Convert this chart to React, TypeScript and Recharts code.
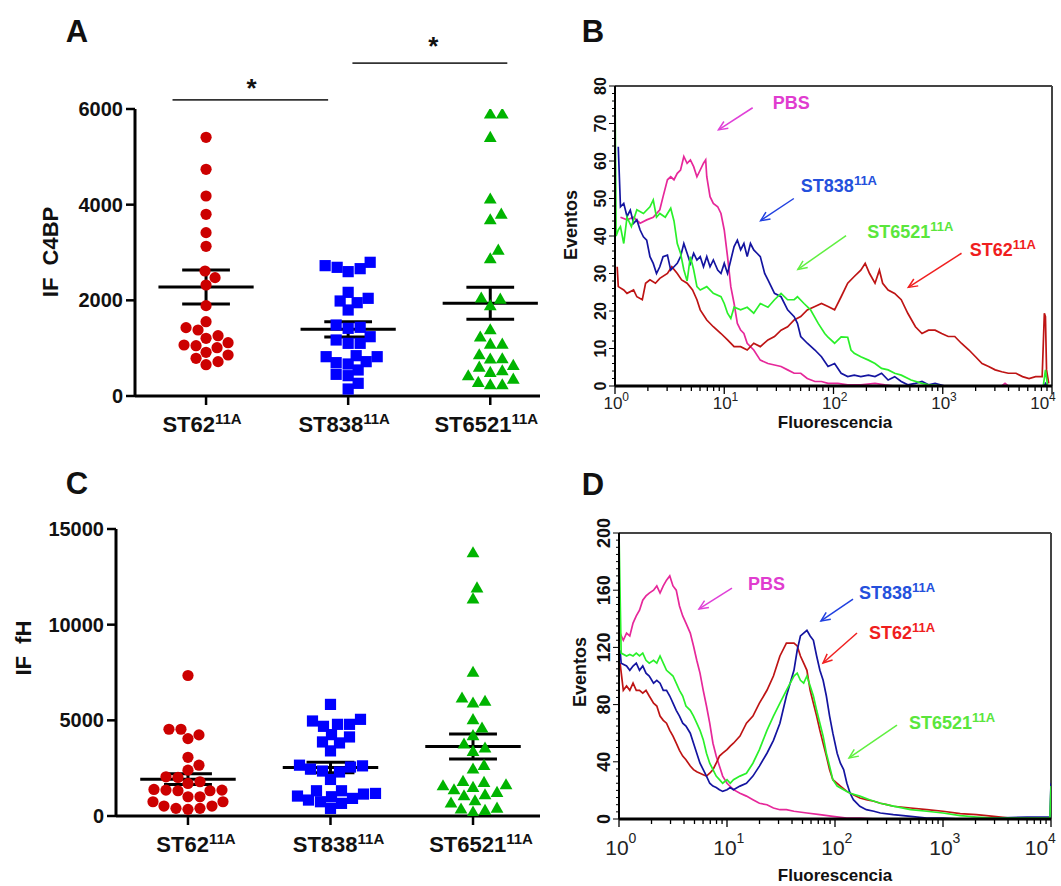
import React from 'react';
import { ScatterChart, Scatter, LineChart, Line, XAxis, YAxis, ReferenceLine, ReferenceDot } from 'recharts';

const FONT = '"Liberation Sans", Arial, Helvetica, sans-serif';

// ---------- Panels A and C : dot plots ----------
const groupNames = ['ST62', 'ST838', 'ST6521'];
const groupSup = '11A';
const groupColors = ['#cc0000', '#0000ff', '#00b400'];

// IF C4BP (panel A)
const c4bpST62 = [5408, 4739, 4181, 3798, 3415, 3129, 2613, 2474, 2321, 1889, 1554, 1429, 1380, 1261, 1206, 1115, 1066, 1052, 1010, 913, 857, 788, 718, 655];
const c4bpST838 = [2725, 2662, 2600, 2690, 2795, 2042, 1951, 1798, 1986, 2167, 1484, 1415, 1436, 1171, 1101, 1101, 1240, 822, 718, 669, 697, 822, 843, 544, 425, 265, 453, 146];
const c4bpST6521 = [5889, 5889, 5401, 4112, 3798, 3680, 3045, 2864, 2021, 2042, 1882, 1380, 1227, 1080, 1080, 774, 634, 599, 767, 857, 523, 418, 279, 230, 230, 348, 488];
const c4bpMean = [2279, 1394, 1937];
const c4bpSem = [355, 160, 335];
const c4bpTicks = [0, 2000, 4000, 6000];

// IF fH (panel C)
const fhST62 = [7342, 4534, 4238, 4046, 4534, 3069, 2656, 2396, 2014, 2048, 1790, 1700, 1389, 1319, 1319, 1354, 1007, 746, 521, 399, 347, 399, 521, 746, 1007, 1354];
const fhST838 = [5833, 4965, 4791, 4687, 4791, 5052, 4253, 3871, 3819, 4132, 3403, 2656, 2560, 2300, 1910, 2450, 2620, 2350, 1319, 1146, 1007, 833, 660, 399, 746, 920, 1042, 1180, 1319];
const fhST6521 = [13743, 11912, 11336, 7499, 5982, 5895, 6156, 5023, 4587, 4186, 3540, 3366, 3750, 2633, 2442, 1744, 1570, 1360, 1221, 1482, 1622, 1796, 1046, 1099, 663, 785, 349, 192, 279, 401];
const fhMean = [1927, 2535, 3628];
const fhSem = [287, 278, 654];
const fhTicks = [0, 5000, 10000, 15000];

// significance annotations for panel A: [x1, x2, yLine, xStar, yStar]
const sigBars = [
  [-0.236, 0.859, 6190, 0.32, 6560],
  [1.03, 2.12, 6960, 1.6, 7440],
];

// ---------- Panels B and D : histograms (log10 fluorescence, events) ----------
const histB_PBS: [number, number][] = [[0.05,45],[0.11,44.3],[0.17,45],[0.23,43.4],[0.29,44.3],[0.35,45],[0.41,47],[0.44,50.5],[0.48,55],[0.51,55.8],[0.54,55],[0.57,56.7],[0.60,57.6],[0.63,61.2],[0.66,59.4],[0.69,60.3],[0.72,58.5],[0.75,55.8],[0.78,57.6],[0.81,59.4],[0.83,60.3],[0.84,55.8],[0.87,50.5],[0.90,48.7],[0.94,47.8],[0.97,46],[1.00,41.6],[1.03,34.5],[1.06,26.5],[1.09,22],[1.12,16.7],[1.15,14.9],[1.18,14],[1.21,11.4],[1.27,9.6],[1.33,6.9],[1.40,6],[1.46,5.6],[1.52,5.2],[1.58,4.3],[1.64,3.4],[1.70,3.4],[1.76,2],[1.83,1.2],[1.89,1.2],[1.95,0.7],[2.04,0.7],[2.13,0.3],[2.25,0.3],[2.38,0.7],[2.47,0.3],[2.56,0],[3.54,0],[3.57,0.7],[3.60,0],[3.97,0]];
const histB_ST838: [number, number][] = [[0.03,63.8],[0.05,47.8],[0.08,48.7],[0.11,45.2],[0.14,46.9],[0.17,43.4],[0.20,44.3],[0.23,41.6],[0.26,39.8],[0.29,38.9],[0.32,34.5],[0.35,32.7],[0.38,30],[0.41,31.8],[0.44,34.5],[0.48,34.9],[0.51,30.9],[0.54,31.8],[0.57,32.7],[0.60,34.5],[0.63,38],[0.66,35.4],[0.69,32.7],[0.72,35.4],[0.75,33.6],[0.78,34.5],[0.81,31.8],[0.84,34.5],[0.87,31.8],[0.90,33.6],[0.94,30.9],[0.97,30],[1.00,32.7],[1.03,30],[1.06,33.6],[1.09,37.2],[1.12,38.9],[1.15,36.3],[1.18,38],[1.21,34.5],[1.24,38],[1.27,36.3],[1.30,35.4],[1.33,34.5],[1.37,30],[1.40,28.3],[1.43,26.5],[1.46,24.7],[1.52,23.8],[1.58,20.3],[1.64,18.5],[1.67,16.7],[1.70,13.2],[1.76,11.4],[1.83,9.6],[1.89,7.8],[1.95,5.2],[2.01,6],[2.07,3.4],[2.13,2.5],[2.19,2.9],[2.25,2.5],[2.32,2.9],[2.38,2.5],[2.44,3.4],[2.50,1.6],[2.56,2.5],[2.62,1.2],[2.68,0.3],[2.75,0.7],[2.81,1.2],[2.87,0.3],[2.93,0.7],[3.02,0],[3.93,0],[3.94,0.7],[3.96,0]];
const histB_ST6521: [number, number][] = [[0,0],[0,80],[0.01,40],[0.03,41.6],[0.05,42.5],[0.08,38],[0.11,45],[0.15,42.5],[0.20,47],[0.26,46],[0.32,47.8],[0.35,49.6],[0.38,45],[0.41,46],[0.46,45],[0.51,47.4],[0.54,44],[0.57,38],[0.60,35.4],[0.63,31],[0.66,28],[0.69,34.5],[0.72,31],[0.75,26.5],[0.78,25.6],[0.84,26.5],[0.90,24.7],[0.97,23.8],[1.00,22],[1.03,19.4],[1.06,18],[1.09,21],[1.15,20.3],[1.21,21],[1.27,19.4],[1.33,22],[1.40,21],[1.46,23],[1.52,24.7],[1.58,23],[1.64,23],[1.67,23.8],[1.73,22],[1.79,20.3],[1.86,16.7],[1.92,14],[1.95,13],[2.01,11.4],[2.07,13.1],[2.13,13],[2.16,9.6],[2.19,8.7],[2.25,7.8],[2.32,6.9],[2.38,6],[2.44,4.7],[2.50,4.3],[2.56,3.4],[2.62,2.9],[2.71,1.6],[2.81,0.7],[2.87,0.3],[3.02,0],[3.92,0],[3.94,4.3],[3.96,0]];
const histB_ST62: [number, number][] = [[0.02,31.8],[0.03,26.5],[0.08,25.6],[0.11,24.7],[0.17,25.6],[0.20,23.8],[0.25,23],[0.28,27.4],[0.32,28.3],[0.37,27.4],[0.41,28.7],[0.48,30],[0.52,31.8],[0.57,30],[0.61,28.3],[0.66,27.4],[0.71,25.6],[0.75,23],[0.78,20.3],[0.84,17.6],[0.90,15.8],[0.97,14],[1.03,12.3],[1.09,10.5],[1.15,10.5],[1.21,9.6],[1.27,11.4],[1.33,10.5],[1.40,12.3],[1.46,13.2],[1.52,14.9],[1.58,15.8],[1.64,17.6],[1.70,18.5],[1.76,20.3],[1.83,21.2],[1.89,22],[1.95,21.2],[2.01,20.3],[2.07,23.8],[2.13,27.4],[2.19,29.2],[2.25,30.9],[2.29,32.7],[2.33,30],[2.38,27.4],[2.42,30.9],[2.45,27.4],[2.50,25.6],[2.56,24.7],[2.62,23],[2.68,19.4],[2.75,15.8],[2.81,14],[2.87,14.9],[2.93,14.9],[2.99,14],[3.05,13.2],[3.11,13.2],[3.17,11.4],[3.24,9.6],[3.30,7.8],[3.36,6],[3.42,5.2],[3.48,4.3],[3.54,3.8],[3.60,3.4],[3.67,3.4],[3.73,2.5],[3.79,2],[3.85,2.5],[3.91,2.5],[3.93,19.4],[3.94,18.5],[3.95,4.3],[3.97,0.7]];

const histD_PBS: [number, number][] = [[0.01,130],[0.04,125],[0.07,130],[0.10,128],[0.13,137],[0.16,142],[0.19,146],[0.22,153],[0.25,156],[0.28,158],[0.32,160],[0.35,163],[0.38,158],[0.41,163],[0.44,167],[0.47,170],[0.50,163],[0.53,160],[0.56,149],[0.59,142],[0.62,137],[0.66,130],[0.69,121],[0.72,111],[0.75,102],[0.78,90],[0.81,79],[0.84,67],[0.87,53],[0.90,44],[0.93,37],[0.96,30],[1.00,25],[1.06,20.5],[1.12,18],[1.18,16],[1.24,13.5],[1.30,11],[1.37,10],[1.43,7.7],[1.49,6.5],[1.55,6.5],[1.62,5.4],[1.74,4.2],[1.86,3],[1.98,1.9],[2.11,0.7],[2.23,0.7],[2.39,0],[3.99,0]];
const histD_ST838: [number, number][] = [[0.01,118],[0.02,109],[0.07,107],[0.10,104],[0.13,107],[0.16,109],[0.19,104],[0.22,107],[0.25,102],[0.28,100],[0.32,95],[0.35,97],[0.38,95],[0.41,90],[0.44,90],[0.47,86],[0.50,81],[0.53,76],[0.56,72],[0.59,67],[0.62,65],[0.66,60],[0.69,53],[0.72,46],[0.75,39],[0.78,34.5],[0.81,30],[0.84,25],[0.87,23],[0.90,22],[0.93,20.5],[0.96,19.3],[1.00,20.5],[1.03,22],[1.06,20.5],[1.12,23],[1.18,25],[1.24,30],[1.30,37],[1.37,46],[1.43,55],[1.49,67],[1.55,86],[1.62,104],[1.65,118],[1.68,128],[1.71,130],[1.74,132],[1.77,128],[1.80,125],[1.83,114],[1.86,104],[1.89,97],[1.92,86],[1.95,72],[1.98,60],[2.02,46],[2.05,39],[2.08,34.5],[2.11,25],[2.14,18],[2.17,13.5],[2.23,8.9],[2.29,6.5],[2.36,5.4],[2.42,4.2],[2.54,3],[2.70,1.9],[2.85,0.7],[3.00,0.7],[3.16,0],[3.47,0.7],[3.78,1.4],[3.99,1.4],[4.0,25]];
const histD_ST62: [number, number][] = [[0.01,109],[0.04,90],[0.07,93],[0.10,90],[0.13,95],[0.16,90],[0.19,90],[0.22,88],[0.25,90],[0.28,86],[0.32,81],[0.35,79],[0.38,72],[0.41,69],[0.44,67],[0.47,62],[0.50,58],[0.53,53],[0.56,48],[0.59,44],[0.62,41.5],[0.66,37],[0.69,34.5],[0.72,33],[0.75,32],[0.78,31],[0.81,30],[0.84,32],[0.87,34.5],[0.90,39],[0.93,44],[0.96,46],[1.00,48.5],[1.03,51],[1.06,53],[1.12,58],[1.18,67],[1.24,72],[1.30,81],[1.37,90],[1.43,100],[1.49,114],[1.55,123],[1.62,123],[1.65,121],[1.68,114],[1.71,109],[1.74,104],[1.77,90],[1.80,81],[1.83,72],[1.86,62],[1.89,53],[1.92,44],[1.95,34.5],[1.98,27.5],[2.05,23],[2.11,19.3],[2.17,17],[2.23,14.7],[2.29,13.5],[2.36,12.4],[2.42,11],[2.48,10],[2.54,8.9],[2.70,7.7],[2.85,6.5],[3.00,5.4],[3.16,3.7],[3.31,3],[3.47,1.9],[3.62,0.7],[3.78,0.7],[3.96,0.2]];
const histD_ST6521: [number, number][] = [[0,0],[0,200],[0.02,116],[0.07,114],[0.10,115],[0.13,114],[0.16,116],[0.19,114],[0.22,116],[0.25,111],[0.28,109],[0.32,111],[0.35,109],[0.38,114],[0.41,109],[0.44,104],[0.47,102],[0.50,100],[0.53,95],[0.56,90],[0.59,86],[0.62,79],[0.66,76],[0.69,72],[0.72,67],[0.75,62],[0.78,55.5],[0.81,46],[0.84,39],[0.87,34.5],[0.90,30],[0.93,27.5],[0.96,25],[1.00,27.5],[1.03,25],[1.06,27.5],[1.12,30],[1.18,32],[1.24,39],[1.30,48.5],[1.37,62],[1.43,72],[1.49,81],[1.55,90],[1.62,100],[1.65,102],[1.68,97],[1.71,95],[1.74,100],[1.77,93],[1.80,86],[1.83,76],[1.86,67],[1.89,58],[1.92,46],[1.95,37],[1.98,27.5],[2.02,23],[2.08,20.5],[2.14,18],[2.23,16],[2.32,13.5],[2.42,11],[2.54,9],[2.70,6.5],[2.85,5.4],[3.00,4.2],[3.16,2.3],[3.31,1.4],[3.47,0.7],[3.78,0.7],[3.99,0.7],[4.0,23]];

const logTicksMajor = [1, 10, 100, 1000, 10000];
const logTicksMinorMult = [2, 3, 4, 5, 6, 7, 8, 9];

// annotation labels: [name, sup, log10 x, events, textColor, arrowTailLx, arrowTailY, arrowHeadLx, arrowHeadY, arrowColor]
type Ann = [string, string, number, number, string, number, number, number, number, string];
const annB: Ann[] = [
  ['PBS', '', 1.444, 75.5, '#e03ccf', 1.26, 74.2, 0.947, 68.3, '#e040d8'],
  ['ST838', '11A', 1.701, 53.4, '#2450dc', 1.637, 50.0, 1.333, 44.1, '#2040e0'],
  ['ST6521', '11A', 2.308, 40.9, '#5ae63c', 2.115, 40.1, 1.674, 31.1, '#60f040'],
  ['ST62', '11A', 3.246, 36.1, '#f01e1e', 3.172, 35.4, 2.685, 26.3, '#f02020'],
];
const annD: Ann[] = [
  ['PBS', '', 1.194, 164.3, '#e03ccf', 1.046, 161.5, 0.741, 146.9, '#e040d8'],
  ['ST838', '11A', 2.222, 158, '#2450dc', 2.167, 153.8, 1.87, 138.5, '#2040e0'],
  ['ST62', '11A', 2.315, 130.1, '#f01e1e', 2.204, 130.1, 1.889, 109.1, '#f02020'],
  ['ST6521', '11A', 2.685, 67.1, '#5ae63c', 2.574, 65.7, 2.13, 42.7, '#60f040'],
];

const curveColors = { pbs: '#e6289a', st838: '#1414a0', st6521: '#2af02a', st62: '#be1414' };

// ---------- helpers ----------
function swarmOffsets(values: number[], pxPerUnitY: number, pxPerCat: number, diam: number): number[] {
  const order = values.map((_, i) => i).sort((a, b) => values[a] - values[b]);
  const placed: { x: number; y: number }[] = [];
  const out: number[] = new Array(values.length).fill(0);
  for (const i of order) {
    const y = values[i] * pxPerUnitY;
    let best = 0;
    for (let k = 0; k < 400; k++) {
      const off = k === 0 ? 0 : (k % 2 === 1 ? Math.ceil(k / 2) : -Math.ceil(k / 2));
      const ok = placed.every((p) => (p.x - off) * (p.x - off) + (p.y - y) * (p.y - y) >= diam * diam);
      if (ok) { best = off; break; }
    }
    placed.push({ x: best, y });
    out[i] = best / pxPerCat;
  }
  return out;
}

const shapes = [
  (p: any) => <circle cx={p.cx} cy={p.cy} r={5.6} fill={groupColors[0]} />,
  (p: any) => <rect x={p.cx - 5.6} y={p.cy - 5.6} width={11.2} height={11.2} fill={groupColors[1]} />,
  (p: any) => <polygon points={`${p.cx},${p.cy - 6.8} ${p.cx - 6.4},${p.cy + 4.3} ${p.cx + 6.4},${p.cy + 4.3}`} fill={groupColors[2]} />,
];

const makeGroupTick = (shift: number) => (props: any) => {
  const { x, y, payload } = props;
  const i = Math.round(payload.value);
  return (
    <text x={x + shift} y={y + 27} textAnchor="middle" fontFamily={FONT} fontWeight="bold" fill="#111">
      <tspan fontSize={22}>{groupNames[i]}</tspan>
      <tspan fontSize={15} dy={-8}>{groupSup}</tspan>
    </text>
  );
};

const StarLabel = (props: any) => {
  const vb = props.viewBox || {};
  const cx = (vb.x || 0) + (vb.width || 0) / 2;
  const cy = (vb.y || 0) + (vb.height || 0) / 2;
  return (
    <text x={cx} y={cy + 15} textAnchor="middle" fontFamily={FONT} fontWeight="bold" fontSize={26} fill="#111">*</text>
  );
};

interface DotPanelProps {
  groups: number[][];
  means: number[];
  sems: number[];
  yMax: number;
  yTicks: number[];
  xDomain: [number, number];
  width: number;
  height: number;
  margin: { top: number; right: number; bottom: number; left: number };
  pxPerY: number;
  pxPerCat: number;
  tickShift: number;
  sig?: number[][];
}

function DotPanel(p: DotPanelProps) {
  const MEAN_HALF = 0.335;
  const CAP_HALF = 0.168;
  const lineStyle = { stroke: '#000', strokeWidth: 3 };
  const refs: React.ReactNode[] = [];
  p.means.forEach((m, g) => {
    const s = p.sems[g];
    refs.push(<ReferenceLine key={`m${g}`} segment={[{ x: g - MEAN_HALF, y: m }, { x: g + MEAN_HALF, y: m }]} {...lineStyle} ifOverflow="visible" />);
    refs.push(<ReferenceLine key={`u${g}`} segment={[{ x: g - CAP_HALF, y: m + s }, { x: g + CAP_HALF, y: m + s }]} {...lineStyle} ifOverflow="visible" />);
    refs.push(<ReferenceLine key={`l${g}`} segment={[{ x: g - CAP_HALF, y: m - s }, { x: g + CAP_HALF, y: m - s }]} {...lineStyle} ifOverflow="visible" />);
    refs.push(<ReferenceLine key={`v${g}`} segment={[{ x: g, y: m - s }, { x: g, y: m + s }]} {...lineStyle} ifOverflow="visible" />);
  });
  (p.sig || []).forEach((b, i) => {
    refs.push(<ReferenceLine key={`s${i}`} segment={[{ x: b[0], y: b[2] }, { x: b[1], y: b[2] }]} stroke="#333" strokeWidth={1.6} ifOverflow="visible" />);
    refs.push(<ReferenceDot key={`st${i}`} x={b[3]} y={b[4]} r={0} fill="none" stroke="none" ifOverflow="visible" label={StarLabel} />);
  });
  return (
    <ScatterChart width={p.width} height={p.height} margin={p.margin}>
      <XAxis type="number" dataKey="x" domain={p.xDomain} allowDataOverflow ticks={[0, 1, 2]} interval={0} height={40}
        axisLine={{ stroke: '#000', strokeWidth: 3 }} tickLine={{ stroke: '#000', strokeWidth: 2.5 }} tickSize={9} tickMargin={0}
        tick={makeGroupTick(p.tickShift)} />
      <YAxis type="number" dataKey="y" domain={[0, p.yMax]} allowDataOverflow ticks={p.yTicks} interval={0} width={70}
        axisLine={{ stroke: '#000', strokeWidth: 3 }} tickLine={{ stroke: '#000', strokeWidth: 2.5 }} tickSize={9} tickMargin={3}
        tick={{ fontSize: 20, fontWeight: 'bold', fill: '#111', fontFamily: FONT }} />
      {p.groups.map((vals, g) => {
        const offs = swarmOffsets(vals, p.pxPerY, p.pxPerCat, 11.5);
        const data = vals.map((v, i) => ({ x: g + offs[i], y: v }));
        return <Scatter key={g} data={data} shape={shapes[g]} isAnimationActive={false} />;
      })}
      {refs}
    </ScatterChart>
  );
}

// ---------- histogram panel ----------
const logTicks: number[] = (() => {
  const t: number[] = [];
  logTicksMajor.forEach((d, i) => {
    t.push(d);
    if (i < logTicksMajor.length - 1) logTicksMinorMult.forEach((m) => t.push(d * m));
  });
  return t;
})();

const makeLogTick = (fs: number, supFs: number, baseDy: number, supDy: number) => (props: any) => {
  const { x, y, payload } = props;
  const v = payload.value;
  const e = Math.round(Math.log10(v));
  const major = Math.abs(Math.pow(10, e) - v) < 1e-6 * v;
  const cx = e === 4 ? x - 0.55 * fs - 3 : x - 2;
  return (
    <g>
      <line x1={x} x2={x} y1={y} y2={y + (major ? 8 : 5)} stroke="#000" strokeWidth={1.3} />
      {major && (
        <g fontFamily={FONT} fill="#222">
          <text x={cx} y={y + baseDy} fontSize={fs} textAnchor="middle">10</text>
          <text x={cx + 0.55 * fs} y={y + supDy} fontSize={supFs} textAnchor="start">{e}</text>
        </g>
      )}
    </g>
  );
};

const makeCountTick = (major: number, fs: number, off: number) => (props: any) => {
  const { x, y, payload } = props;
  const v = payload.value;
  const isMajor = v % major === 0;
  const lx = x - off;
  return (
    <g>
      <line x1={x} x2={x - (isMajor ? 6 : 3)} y1={y} y2={y} stroke="#000" strokeWidth={1} />
      {isMajor && (
        <text x={lx} y={y} transform={`rotate(-90 ${lx} ${y})`} textAnchor="middle" dy="0.36em"
          fontFamily={FONT} fontWeight="bold" fontSize={fs} fill="#111">{v}</text>
      )}
    </g>
  );
};

const ArrowShape = (props: any) => {
  const { x1, y1, x2, y2, stroke } = props;
  if ([x1, y1, x2, y2].some((v) => typeof v !== 'number' || isNaN(v))) return null;
  const ang = Math.atan2(y2 - y1, x2 - x1);
  const L = 10;
  const a = 0.42;
  const p1 = `${x2 - L * Math.cos(ang - a)},${y2 - L * Math.sin(ang - a)}`;
  const p2 = `${x2 - L * Math.cos(ang + a)},${y2 - L * Math.sin(ang + a)}`;
  return (
    <g>
      <line x1={x1} y1={y1} x2={x2} y2={y2} stroke={stroke} strokeWidth={1.5} />
      <polyline points={`${p1} ${x2},${y2} ${p2}`} fill="none" stroke={stroke} strokeWidth={1.5} />
    </g>
  );
};

const makeAnnLabel = (name: string, sup: string, color: string) => (props: any) => {
  const vb = props.viewBox || {};
  const x = (vb.x || 0) + (vb.width || 0) / 2;
  const y = (vb.y || 0) + (vb.height || 0) / 2;
  return (
    <text x={x} y={y} dy="0.36em" fontFamily={FONT} fontWeight="bold" fill={color} textAnchor="start">
      <tspan fontSize={18}>{name}</tspan>
      {sup && <tspan fontSize={13} dy={-7}>{sup}</tspan>}
    </text>
  );
};

const toPts = (arr: [number, number][]) => arr.map(([lx, n]) => ({ f: Math.pow(10, lx), n }));

interface HistProps {
  width: number;
  height: number;
  margin: { top: number; right: number; bottom: number; left: number };
  yMax: number;
  countTicks: number[];
  countMajor: number;
  countFs: number;
  xAxisHeight: number;
  xFs: number;
  xSupFs: number;
  xBaseDy: number;
  xSupDy: number;
  curves: { data: [number, number][]; color: string }[];
  ann: Ann[];
}

function HistPanel(p: HistProps) {
  return (
    <LineChart width={p.width} height={p.height} margin={p.margin}>
      <XAxis type="number" dataKey="f" scale="log" domain={[1, 10000]} allowDataOverflow ticks={logTicks} interval={0}
        height={p.xAxisHeight} tickSize={0} tickMargin={0} tickLine={false}
        axisLine={{ stroke: '#000', strokeWidth: 3 }} tick={makeLogTick(p.xFs, p.xSupFs, p.xBaseDy, p.xSupDy)} />
      <YAxis type="number" dataKey="n" domain={[0, p.yMax]} allowDataOverflow ticks={p.countTicks} interval={0}
        width={50} tickSize={0} tickMargin={0} tickLine={false}
        axisLine={{ stroke: '#000', strokeWidth: 2 }} tick={makeCountTick(p.countMajor, p.countFs, 15)} />
      <ReferenceLine y={p.yMax} stroke="#444" strokeWidth={2} ifOverflow="visible" />
      <ReferenceLine x={10000} stroke="#444" strokeWidth={2} ifOverflow="visible" />
      {p.curves.map((c, i) => (
        <Line key={i} data={toPts(c.data)} dataKey="n" type="linear" stroke={c.color} strokeWidth={1.7}
          dot={false} activeDot={false} isAnimationActive={false} />
      ))}
      {p.ann.map((a, i) => (
        <ReferenceLine key={`a${i}`} segment={[{ x: Math.pow(10, a[5]), y: a[6] }, { x: Math.pow(10, a[7]), y: a[8] }]}
          stroke={a[9]} ifOverflow="visible" shape={ArrowShape} />
      ))}
      {p.ann.map((a, i) => (
        <ReferenceDot key={`t${i}`} x={Math.pow(10, a[2])} y={a[3]} r={0} fill="none" stroke="none" ifOverflow="visible"
          label={makeAnnLabel(a[0], a[1], a[4])} />
      ))}
    </LineChart>
  );
}

const countTicksB = Array.from({ length: 41 }, (_, i) => i * 2);
const countTicksD = Array.from({ length: 41 }, (_, i) => i * 5);

export default function App() {
  const abs = (left: number, top: number): React.CSSProperties => ({ position: 'absolute', left, top });
  return (
    <div style={{ position: 'absolute', left: 0, top: 0, width: 1061, height: 886, background: '#fff', overflow: 'hidden', fontFamily: FONT }}>
      <div style={abs(0, 0)}>
        <DotPanel groups={[c4bpST62, c4bpST838, c4bpST6521]} means={c4bpMean} sems={c4bpSem} yMax={6000} yTicks={c4bpTicks}
          xDomain={[-0.5, 2.35]} width={560} height={440} margin={{ top: 109, right: 20, bottom: 4, left: 65 }}
          pxPerY={287 / 6000} pxPerCat={142} tickShift={-4} sig={sigBars} />
      </div>
      <div style={abs(0, 450)}>
        <DotPanel groups={[fhST62, fhST838, fhST6521]} means={fhMean} sems={fhSem} yMax={15000} yTicks={fhTicks}
          xDomain={[-0.505, 2.47]} width={560} height={440} margin={{ top: 79, right: 20, bottom: 34, left: 46 }}
          pxPerY={287 / 15000} pxPerCat={142.5} tickShift={8} />
      </div>
      <div style={abs(560, 60)}>
        <HistPanel width={501} height={390} margin={{ top: 26, right: 9, bottom: 24, left: 5 }} yMax={80}
          countTicks={countTicksB} countMajor={10} countFs={16} xAxisHeight={40} xFs={17} xSupFs={12} xBaseDy={23} xSupDy={15}
          curves={[
            { data: histB_PBS, color: curveColors.pbs },
            { data: histB_ST62, color: curveColors.st62 },
            { data: histB_ST838, color: curveColors.st838 },
            { data: histB_ST6521, color: curveColors.st6521 },
          ]}
          ann={annB} />
      </div>
      <div style={abs(560, 500)}>
        <HistPanel width={501} height={386} margin={{ top: 33, right: 10, bottom: 22, left: 9 }} yMax={200}
          countTicks={countTicksD} countMajor={40} countFs={18} xAxisHeight={45} xFs={21} xSupFs={14} xBaseDy={36} xSupDy={24}
          curves={[
            { data: histD_PBS, color: curveColors.pbs },
            { data: histD_ST62, color: curveColors.st62 },
            { data: histD_ST838, color: curveColors.st838 },
            { data: histD_ST6521, color: curveColors.st6521 },
          ]}
          ann={annD} />
      </div>
      <svg width={1061} height={886} style={{ position: 'absolute', left: 0, top: 0, pointerEvents: 'none' }}>
        <g fontFamily={FONT} fontWeight="bold" fill="#111">
          <text x={77} y={42} fontSize={31} textAnchor="middle">A</text>
          <text x={593} y={42} fontSize={31} textAnchor="middle">B</text>
          <text x={77} y={494} fontSize={31} textAnchor="middle">C</text>
          <text x={593} y={495} fontSize={31} textAnchor="middle">D</text>
          <text x={50} y={252} fontSize={22} textAnchor="middle" dy="0.36em" transform="rotate(-90 50 252)">{'IF\u00a0\u00a0C4BP'}</text>
          <text x={23} y={648} fontSize={22} textAnchor="middle" dy="0.36em" transform="rotate(-90 23 648)">{'IF\u00a0\u00a0fH'}</text>
          <text x={571} y={225} fontSize={18} textAnchor="middle" dy="0.36em" transform="rotate(-90 571 225)">Eventos</text>
          <text x={580} y={672} fontSize={18} textAnchor="middle" dy="0.36em" transform="rotate(-90 580 672)">Eventos</text>
          <text x={835} y={422} fontSize={17} textAnchor="middle" dy="0.36em">Fluorescencia</text>
          <text x={835} y={875} fontSize={17} textAnchor="middle" dy="0.36em">Fluorescencia</text>
        </g>
      </svg>
    </div>
  );
}
